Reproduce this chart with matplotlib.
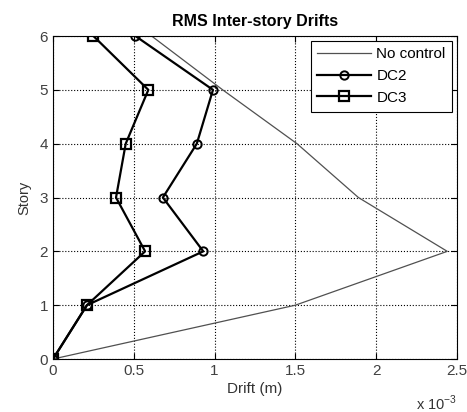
import matplotlib.pyplot as plt

# story levels and RMS drifts (m)
story = [0, 1, 2, 3, 4, 5, 6]
no_control = [0, 1.50e-3, 2.44e-3, 1.89e-3, 1.51e-3, 1.05e-3, 0.61e-3]
dc2 = [0, 0.21e-3, 0.93e-3, 0.68e-3, 0.89e-3, 0.99e-3, 0.51e-3]
dc3 = [0, 0.21e-3, 0.57e-3, 0.39e-3, 0.45e-3, 0.59e-3, 0.25e-3]

plt.rcParams['font.family'] = ['Liberation Sans', 'DejaVu Sans']
plt.rcParams['mathtext.fontset'] = 'custom'
plt.rcParams['mathtext.rm'] = 'Liberation Sans'

fig = plt.figure(figsize=(4.67, 4.12), dpi=100)
ax = fig.add_axes([0.1135, 0.1286, 0.865, 0.784])

scale = 1e3
ax.plot([v * scale for v in no_control], story, color='#505050', lw=0.9, label='No control')
ax.plot([v * scale for v in dc2], story, color='black', lw=1.6, marker='o', ms=6,
        mfc='none', mec='black', mew=1.4, label='DC2')
ax.plot([v * scale for v in dc3], story, color='black', lw=1.6, marker='s', ms=7,
        mfc='none', mec='black', mew=1.6, label='DC3')

ax.set_xlim(0, 2.5)
ax.set_ylim(0, 6)
ax.set_xticks([0, 0.5, 1, 1.5, 2, 2.5])
ax.set_xticklabels(['0', '0.5', '1', '1.5', '2', '2.5'])
ax.set_yticks(range(7))
ax.grid(True, color='black', linestyle=':', lw=0.8)
ax.tick_params(direction='in', labelsize=11, labelcolor='#404040', top=True, right=True, length=4)
for s in ax.spines.values():
    s.set_linewidth(0.8)

ax.set_title('RMS Inter-story Drifts', fontsize=11.5, fontweight='bold', pad=7)
ax.set_xlabel('Drift (m)', fontsize=11, color='#333333', labelpad=3)
ax.set_ylabel('Story', fontsize=10.5, color='#333333', labelpad=6)
ax.text(1.0, -0.158, r'x 10$^{-3}$', transform=ax.transAxes, ha='right', va='baseline',
        fontsize=10.5, color='#333333')

leg = ax.legend(loc='upper right', fontsize=11, fancybox=False, framealpha=1,
                edgecolor='black', handlelength=3.5, borderaxespad=0.3,
                labelspacing=0.5, handletextpad=0.35, borderpad=0.45)
leg.get_frame().set_linewidth(0.8)

fig.savefig('out.png', dpi=100)
